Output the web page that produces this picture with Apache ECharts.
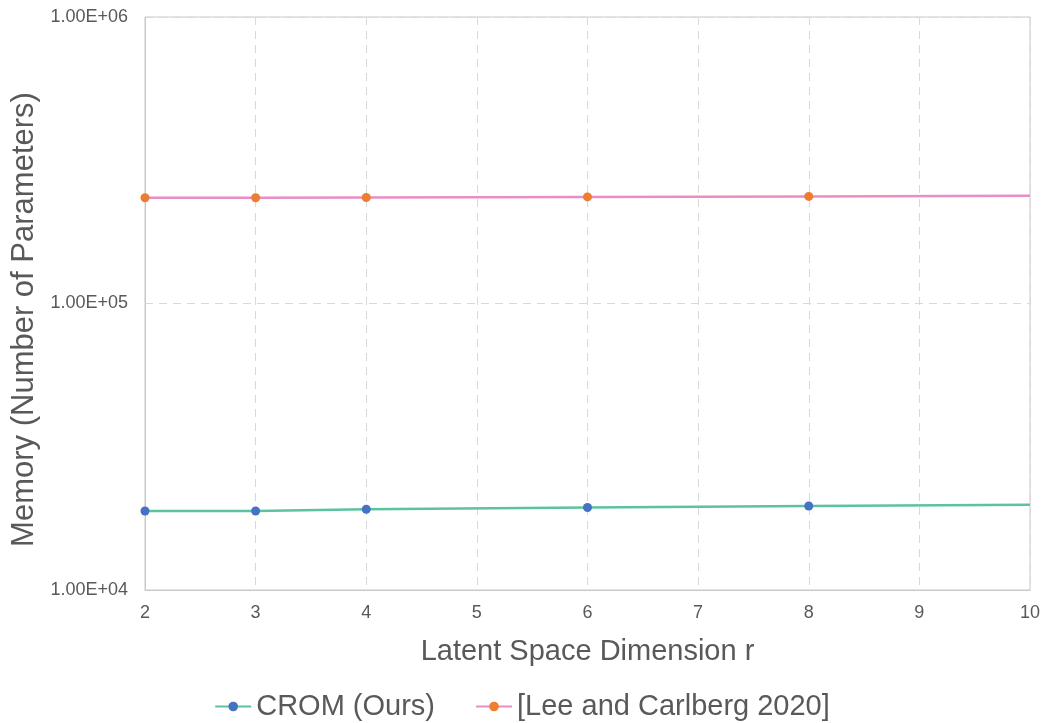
<!DOCTYPE html>
<html>
<head>
<meta charset="utf-8">
<script src="https://cdn.jsdelivr.net/npm/echarts@6/dist/echarts.min.js"></script>
<style>html,body{margin:0;padding:0;background:#fff}#c{width:1044px;height:723px}</style>
</head>
<body>
<div id="c"></div>
<script>
var dims = [2, 3, 4, 6, 8, 10];
var cromValues = [18870, 18870, 19130, 19400, 19640, 19830];
var leeValues = [234000, 234000, 234500, 235500, 236500, 237500];
var markerShown = [true, true, true, true, true, false];
var seriesNames = ['CROM (Ours)', '[Lee and Carlberg 2020]'];
var xTicks = [2, 3, 4, 5, 6, 7, 8, 9, 10];

function pts(vals) {
  return dims.map(function (d, i) {
    var item = { value: [d, vals[i]] };
    if (!markerShown[i]) item.symbol = 'none';
    return item;
  });
}
function sci(v) {
  var e = Math.round(Math.log10(v));
  var m = v / Math.pow(10, e);
  return m.toFixed(2) + 'E' + (e >= 0 ? '+' : '-') + (Math.abs(e) < 10 ? '0' : '') + Math.abs(e);
}
var font = 'Liberation Sans, Arial, sans-serif';
var chart = echarts.init(document.getElementById('c'));
chart.setOption({
  animation: false,
  textStyle: { fontFamily: font },
  grid: { left: 145, right: 14, top: 17, bottom: 133, show: true, borderColor: '#c9c9c9', borderWidth: 1, containLabel: false, outerBoundsMode: 'none' },
  legend: {
    bottom: -3, left: 'center', itemGap: 40, itemWidth: 36, itemHeight: 12,
    textStyle: { fontSize: 29, color: '#595959', fontFamily: font },
    data: seriesNames
  },
  xAxis: {
    type: 'value', min: 2, max: 10, interval: 1,
    name: 'Latent Space Dimension r', nameLocation: 'middle', nameGap: 47,
    nameTextStyle: { fontSize: 29, color: '#595959' },
    axisLine: { show: true, lineStyle: { color: '#c9c9c9' } },
    axisTick: { show: false },
    axisLabel: { fontSize: 18, color: '#595959', margin: 14 },
    splitLine: { show: true, lineStyle: { color: '#d9d9d9', type: [8, 6] } }
  },
  yAxis: {
    type: 'log', logBase: 10, min: 10000, max: 1000000,
    name: 'Memory (Number of Parameters)', nameLocation: 'middle', nameGap: 102,
    nameTextStyle: { fontSize: 31, color: '#595959', padding: [0, 32, 0, 0] },
    axisLine: { show: true, lineStyle: { color: '#c9c9c9' } },
    axisTick: { show: false },
    axisLabel: { fontSize: 18, color: '#595959', margin: 17, formatter: sci },
    splitLine: { show: true, lineStyle: { color: '#d9d9d9', type: [8, 6] } }
  },
  series: [
    {
      name: seriesNames[0], type: 'line', data: pts(cromValues),
      symbol: 'circle', symbolSize: 9,
      itemStyle: { color: '#4472c4' },
      lineStyle: { color: '#5cc39f', width: 2.5 }
    },
    {
      name: seriesNames[1], type: 'line', data: pts(leeValues),
      symbol: 'circle', symbolSize: 9,
      itemStyle: { color: '#ed7d31' },
      lineStyle: { color: '#e98dc7', width: 2.5 }
    }
  ]
});
</script>
</body>
</html>
